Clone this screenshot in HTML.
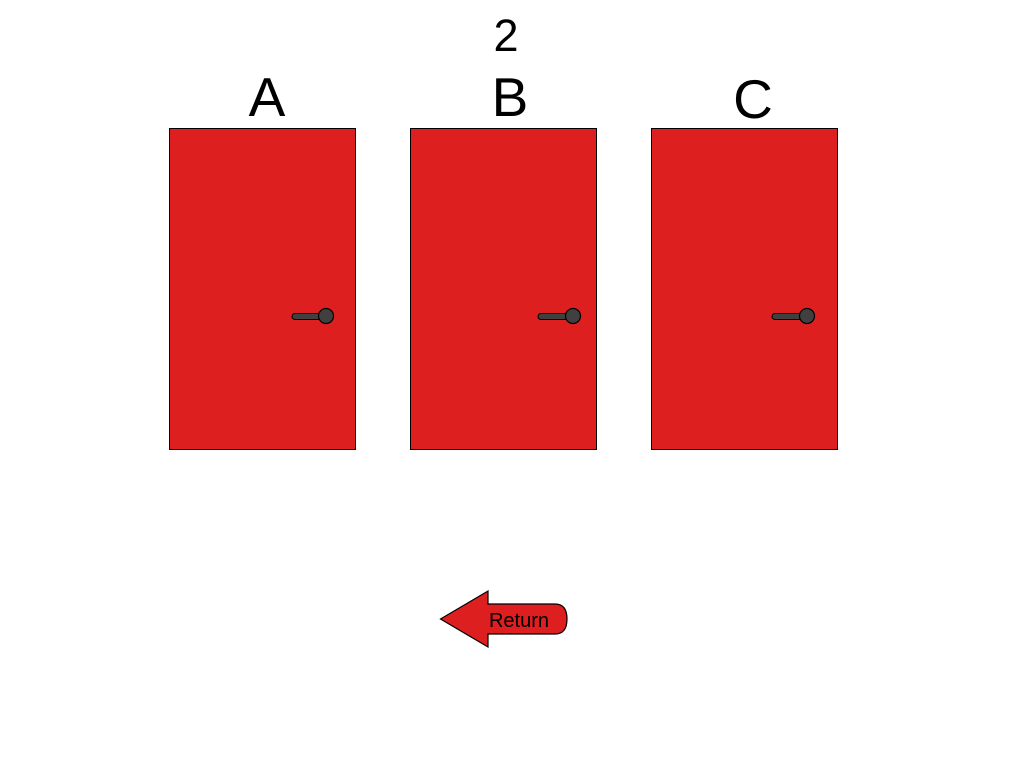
<!DOCTYPE html>
<html><head><meta charset="utf-8"><style>html,body{margin:0;padding:0;background:#fff;width:1024px;height:768px;overflow:hidden}</style></head>
<body>
<svg width="1024" height="768" viewBox="0 0 1024 768" xmlns="http://www.w3.org/2000/svg" font-family="Liberation Sans, sans-serif">
<text x="506" y="51" font-size="45" text-anchor="middle" fill="#000">2</text>
<g>
<text x="267" y="116" font-size="55" text-anchor="middle" fill="#000">A</text>
<rect x="169.5" y="128.5" width="186" height="321" fill="#dd1f20" stroke="#000" stroke-width="1"/>
<line x1="295" y1="316.5" x2="326" y2="316.5" stroke="#000" stroke-width="7" stroke-linecap="round"/>
<line x1="295" y1="316.5" x2="326" y2="316.5" stroke="#404040" stroke-width="5" stroke-linecap="round"/>
<circle cx="326" cy="316" r="7.5" fill="#404040" stroke="#000" stroke-width="1.2"/>
</g>
<g>
<text x="510" y="116" font-size="55" text-anchor="middle" fill="#000">B</text>
<rect x="410.5" y="128.5" width="186" height="321" fill="#dd1f20" stroke="#000" stroke-width="1"/>
<line x1="541" y1="316.5" x2="573" y2="316.5" stroke="#000" stroke-width="7" stroke-linecap="round"/>
<line x1="541" y1="316.5" x2="573" y2="316.5" stroke="#404040" stroke-width="5" stroke-linecap="round"/>
<circle cx="573" cy="316" r="7.5" fill="#404040" stroke="#000" stroke-width="1.2"/>
</g>
<g>
<text x="753" y="118" font-size="55" text-anchor="middle" fill="#000">C</text>
<rect x="651.5" y="128.5" width="186" height="321" fill="#dd1f20" stroke="#000" stroke-width="1"/>
<line x1="775" y1="316.5" x2="807" y2="316.5" stroke="#000" stroke-width="7" stroke-linecap="round"/>
<line x1="775" y1="316.5" x2="807" y2="316.5" stroke="#404040" stroke-width="5" stroke-linecap="round"/>
<circle cx="807" cy="316" r="7.5" fill="#404040" stroke="#000" stroke-width="1.2"/>
</g>
<g>
<path d="M440.5,619 L488,591 L488,604 L555,604 Q567,604 567,619 Q567,634 555,634 L488,634 L488,647 Z" fill="#dd1f20" stroke="#000" stroke-width="1.2"/>
<text x="519" y="627" font-size="20" text-anchor="middle" fill="#000">Return</text>
</g>
</svg>
</body></html>
